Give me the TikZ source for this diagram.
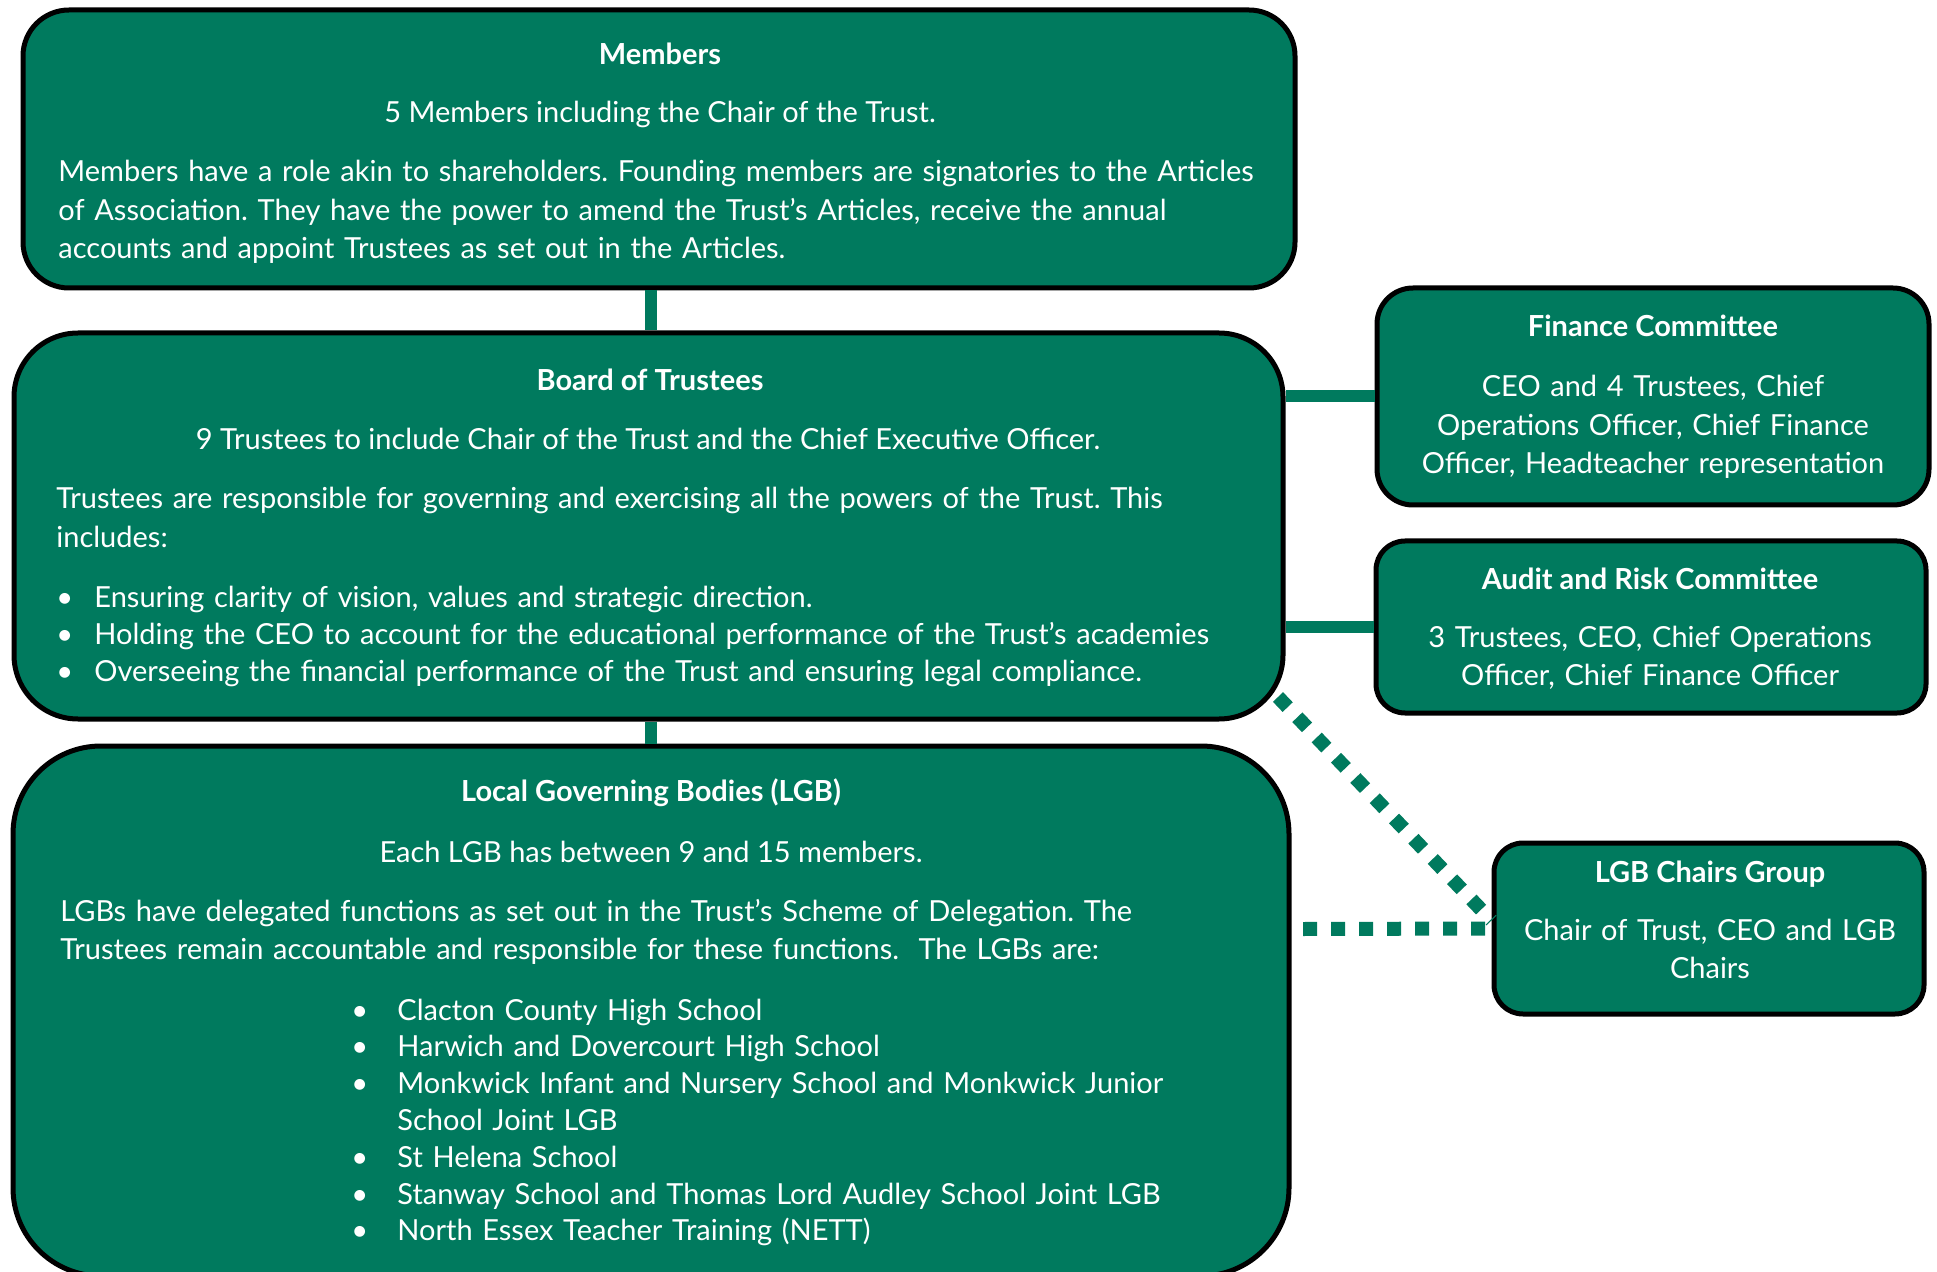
\documentclass[tikz,border=0pt]{standalone}
\usepackage{fontspec}
\setmainfont{Lato}
\usetikzlibrary{positioning}
\frenchspacing
\definecolor{trustgreen}{RGB}{0,122,94}
\newcommand{\listdot}[1]{\makebox[#1][l]{\textbullet}}
\tikzset{
  box/.style={draw=black, line width=2.5pt, fill=trustgreen, rounded corners=#1, inner sep=0pt},
  link/.style={draw=trustgreen, line width=6pt},
  dotlink/.style={draw=trustgreen, line width=7pt, dash pattern=on 7pt off 7pt},
  txt/.style={text=white, inner sep=0pt, font=\fontsize{14.5}{19.15}\selectfont},
  head/.style={txt, font=\fontsize{14.5}{19.15}\selectfont\bfseries},
  listtxt/.style={txt, font=\fontsize{14.5}{18.4}\selectfont},
}
\begin{document}
\begin{tikzpicture}[x=0.5pt, y=-0.5pt]
\useasboundingbox (0,0) rectangle (1937,1272);
% Boxes
\node[box=23pt, minimum width=636pt, minimum height=139pt] (members) at (659,149) {};
\node[box=32pt, minimum width=634.5pt, minimum height=193pt] (board) at (648.5,526) {};
\node[box=44pt, minimum width=638pt, minimum height=265pt] (lgb) at (651,1011) {};
\node[box=18pt, minimum width=276pt, minimum height=108.5pt] (finance) at (1653,396.5) {};
\node[box=14.5pt, minimum width=275pt, minimum height=86pt] (audit) at (1651,627) {};
\node[box=14.5pt, minimum width=215pt, minimum height=85.5pt] (chairs) at (1709,928.5) {};

% Connectors
\coordinate (spine) at (651,0);
\coordinate (boardtip) at (1278,697);
\coordinate (lgbgap) at (1303,929);
\draw[link] (members.south -| spine) -- (board.north -| spine);
\draw[link] (board.south -| spine) -- (lgb.north -| spine);
\draw[link] (finance.west) -- (finance.west -| board.east);
\draw[link] (audit.west) -- (audit.west -| board.east);
\draw[dotlink] (boardtip) -- ([yshift=4pt]chairs.west);
\draw[dotlink] (lgbgap) -- (chairs.west);

% Members
\node[head, anchor=base] (memberstitle) at (660,65) {Members};
\node[txt, anchor=base] (memberssub) at (660,123) {5 Members including the Chair of the Trust.};
\node[txt, anchor=base west, text width=640pt, align=left] (memberstext) at (58,182)
  {Members have a role akin to shareholders. Founding members are signatories to the Articles\\
   of Association. They have the power to amend the Trust's Articles, receive the annual\\
   accounts and appoint Trustees as set out in the Articles.};

% Board of Trustees
\node[head, anchor=base] (boardtitle) at (650,391) {Board of Trustees};
\node[txt, anchor=base] (boardsub) at (648,450) {9 Trustees to include Chair of the Trust and the Chief Executive Officer.};
\node[txt, anchor=base west, text width=640pt, align=left] (boardtext) at (56,509)
  {Trustees are responsible for governing and exercising all the powers of the Trust. This\\
   includes:};
\node[listtxt, anchor=base west, text width=640pt, align=left] (boardlist) at (56,607.5)
  {\listdot{19pt}Ensuring clarity of vision, values and strategic direction.\\
   \listdot{19pt}Holding the CEO to account for the educational performance of the Trust's academies\\
   \listdot{19pt}Overseeing the financial performance of the Trust and ensuring legal compliance.};

% Local Governing Bodies
\node[head, anchor=base] (lgbtitle) at (651,801) {Local Governing Bodies (LGB)};
\node[txt, anchor=base] (lgbsub) at (651,862) {Each LGB has between 9 and 15 members.};
\node[txt, anchor=base west, text width=640pt, align=left] (lgbtext) at (60,921)
  {LGBs have delegated functions as set out in the Trust's Scheme of Delegation. The\\
   Trustees remain accountable and responsible for these functions. \ The LGBs are:};
\node[listtxt, anchor=base west, text width=500pt, align=left] (lgblist) at (351,1020)
  {\listdot{23pt}Clacton County High School\\
   \listdot{23pt}Harwich and Dovercourt High School\\
   \listdot{23pt}Monkwick Infant and Nursery School and Monkwick Junior\\
   \hspace*{23pt}School Joint LGB\\
   \listdot{23pt}St Helena School\\
   \listdot{23pt}Stanway School and Thomas Lord Audley School Joint LGB\\
   \listdot{23pt}North Essex Teacher Training (NETT)};

% Committees
\node[head, anchor=base] (financetitle) at (1653,337) {Finance Committee};
\node[txt, anchor=base, text width=300pt, align=center] (financetext) at (1653,397)
  {CEO and 4 Trustees, Chief\\ Operations Officer, Chief Finance\\ Officer, Headteacher representation};
\node[head, anchor=base] (audittitle) at (1650,589) {Audit and Risk Committee};
\node[txt, anchor=base, text width=300pt, align=center] (audittext) at (1650,647)
  {3 Trustees, CEO, Chief Operations\\ Officer, Chief Finance Officer};
\node[head, anchor=base] (chairstitle) at (1710,882) {LGB Chairs Group};
\node[txt, anchor=base, text width=300pt, align=center] (chairstext) at (1710,940)
  {Chair of Trust, CEO and LGB\\ Chairs};
\end{tikzpicture}
\end{document}
